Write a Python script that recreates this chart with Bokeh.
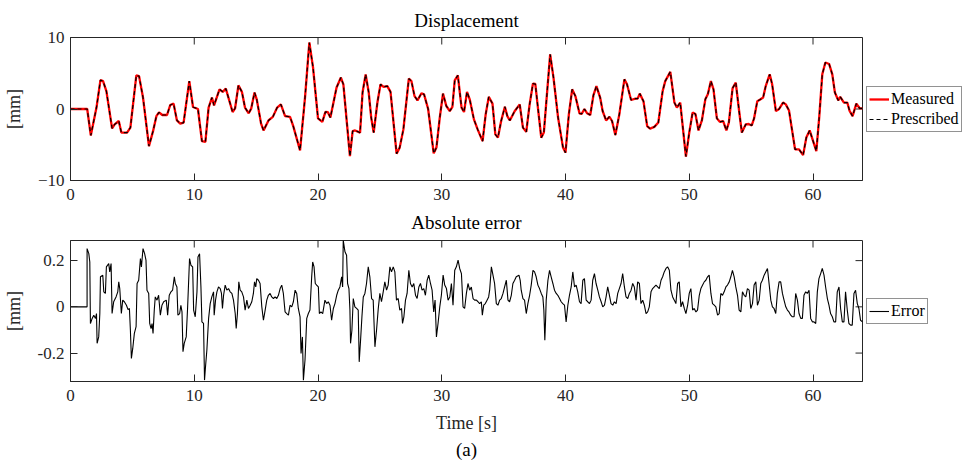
import math
from bokeh.plotting import figure
from bokeh.models import Range1d, FixedTicker, Legend, LegendItem, Title
from bokeh.layouts import column
from bokeh.embed import file_html
from bokeh.resources import INLINE

# ---------------- data ----------------
disp_t = [0, 1.35, 1.64, 2.1, 2.42, 2.63, 2.9, 3.36, 3.57, 3.9, 4.11, 4.57, 4.84, 5.32, 5.54, 5.86, 6.34, 6.67,
          6.94, 7.15, 7.42, 7.8, 8.06, 8.33, 8.6, 8.87, 9.14, 9.6, 9.9, 10.3, 10.62, 10.9, 11.16, 11.43, 11.6,
          12.04, 12.3, 12.55, 13.1, 13.3, 13.57, 13.85, 14.1, 14.4, 14.6, 14.87, 15.05, 15.4, 15.6, 16.0, 16.35,
          16.7, 17.0, 17.34, 17.74, 18.0, 18.55, 18.95, 19.3, 19.6, 20.0, 20.35, 20.6, 20.8, 21.0, 21.5, 21.85,
          22.05, 22.58, 22.8, 23.0, 23.4, 23.6, 23.85, 24.1, 24.3, 24.5, 24.8, 25.05, 25.3, 25.6, 25.86, 26.35,
          26.6, 26.9, 27.34, 27.55, 27.8, 28.04, 28.36, 28.57, 28.9, 29.35, 29.57, 29.84, 30.1, 30.37, 30.65,
          30.86, 31.05, 31.3, 31.6, 31.8, 32.04, 32.26, 32.6, 32.9, 33.3, 33.55, 33.8, 34.1, 34.33, 34.54, 34.8,
          35.1, 35.3, 35.5, 35.9, 36.3, 36.56, 36.83, 37.1, 37.37, 37.56, 37.77, 38.04, 38.25, 38.76, 39.03,
          39.4, 39.8, 40.0, 40.27, 40.54, 40.8, 41.13, 41.3, 41.53, 41.75, 42.0, 42.26, 42.5, 42.8, 43.0, 43.28,
          43.55, 43.76, 44.03, 44.35, 44.76, 44.97, 45.3, 45.65, 45.83, 46.0, 46.3, 46.6, 46.83, 47.18, 47.5,
          47.85, 48.06, 48.47, 48.8, 49.0, 49.27, 49.73, 50.0, 50.27, 50.5, 50.75, 51.02, 51.3, 51.5, 51.75,
          51.96, 52.23, 52.47, 52.74, 53.0, 53.2, 53.5, 53.76, 54.03, 54.25, 54.57, 54.8, 55.05, 55.24, 55.5,
          55.7, 55.97, 56.18, 56.5, 56.7, 57.0, 57.26, 57.58, 57.8, 58.06, 58.55, 58.87, 59.2, 59.46, 59.73,
          60.27, 60.5, 60.75, 61.0, 61.3, 61.56, 61.77, 62.04, 62.2, 62.5, 62.77, 62.96, 63.2, 63.5, 63.77, 64.0]
disp_prescribed = [0, 0, -3.7, 0.2, 4.05, 3.9, 2.5, -2.7, -2.15, -1.68, -3.3, -3.3, -2.6, 4.7, 4.6, 1.6, -5.2, -3.1,
                   -1.0, -0.47, -0.84, -0.84, 0.56, 0.75, -1.6, -2.05, -1.9, 3.9, 0.28, 0.0, -4.5, -4.6, 0.2, 1.6, 0.5,
                   2.75, 2.4, 2.85, -0.42, 0.1, 3.3, 2.4, 0.2, -0.6, 0.05, 2.3, 1.35, -2.05, -3.0, -1.6, -1.1,
                   0.2, 0.65, -1.0, -1.1, -2.4, -5.8, 1.6, 9.3, 5.8, -1.3, -1.8, -0.4, -0.45, -1.2, 3.0, 4.4,
                   3.45, -6.6, -3.1, -3.0, -3.3, 2.3, 4.85, 2.3, -1.2, -3.3, 0.9, 3.45, 3.1, 3.2, 2.4, -6.25,
                   -5.4, -2.85, 4.25, 3.9, 1.8, 1.2, 2.2, 2.05, 0.0, -6.2, -5.4, -1.2, 2.15, 0.42, -0.28,
                   0.28, 4.0, 4.7, 0.2, -0.42, 2.4, 1.35, -1.45, -2.85, -4.5, -0.75, 1.7, 0.75, -3.55, -4.0, -1.68,
                   0.32, -1.0, -1.6, -0.28, 0.65, -2.6, -3.2, 0.65, 3.55, 3.5, 0.2, -4.0, -3.3, 7.65, 4.4,
                   -1.2, -5.4, -6.1, -0.75, 2.75, 1.8, -0.6, -0.7, 0.0, -0.6, -0.84, 1.95, 3.2, 1.6, -0.28, -1.6,
                   -1.08, -1.68, -3.64, -0.75, 4.15, 3.45, 1.26, 1.45, 1.45, 2.15, 1.1, -2.4, -2.75, -2.5, -1.9,
                   2.5, 3.9, 5.2, 0.9, 0.2, 0.9, -6.65, -3.3, -0.5, -0.7, -3.0, -1.6, 1.35, 2.05, 3.9,
                   2.75, -1.3, -1.8, -1.7, -3.0, -1.9, 2.9, 3.7, -0.28, -3.3, -2.15, -2.1, -2.3, -1.3, 1.1,
                   1.3, 1.6, 3.2, 4.85, 3.45, -0.28, 0.0, 0.9, 0.65, -0.2, -5.65, -5.65, -6.45, -4.0, -3.0,
                   -5.9, -1.2, 4.85, 6.5, 6.3, 4.85, 2.3, 1.2, 1.7, 0.9, 0.9, -0.28, -1.0, 0.75, 0.1, 0.1]
# the measured curve coincides with the prescribed one at this scale
disp_measured = disp_prescribed

err_t = [0, 1.34, 1.34, 1.48, 1.56, 1.61, 1.75, 1.88, 2.02, 2.10, 2.15, 2.28, 2.37, 2.42, 2.61, 2.69, 2.82, 2.90,
         3.09, 3.17, 3.28, 3.36, 3.49, 3.68, 3.82, 3.90, 3.98, 4.11, 4.22, 4.35, 4.52, 4.65, 4.76, 4.84, 4.92,
         5.03, 5.16, 5.30, 5.38, 5.51, 5.65, 5.73, 5.86, 5.99, 6.10, 6.18, 6.32, 6.40, 6.51, 6.59, 6.67, 6.77,
         6.85, 6.99, 7.12, 7.26, 7.39, 7.53, 7.74, 7.85, 7.98, 8.12, 8.25, 8.39, 8.47, 8.60, 8.68, 8.82, 8.92,
         9.01, 9.09, 9.19, 9.35, 9.46, 9.62, 9.73, 9.87, 9.95, 10.08, 10.22, 10.30, 10.43, 10.54, 10.62, 10.75,
         10.83, 10.91, 11.02, 11.16, 11.29, 11.42, 11.56, 11.61, 11.72, 11.83, 11.96, 12.10, 12.20, 12.28,
         12.37, 12.50, 12.63, 12.77, 12.90, 13.04, 13.17, 13.31, 13.39, 13.49, 13.60, 13.71, 13.84, 13.98,
         14.11, 14.25, 14.38, 14.52, 14.65, 14.78, 14.87, 14.97, 15.05, 15.19,
         15.32, 15.46, 15.59, 15.73, 15.86, 15.99, 16.13, 16.26, 16.40, 16.53, 16.67, 16.80, 16.94, 17.07,
         17.20, 17.34, 17.47, 17.61, 17.74, 17.88, 18.01, 18.15, 18.28, 18.41, 18.55, 18.63, 18.74, 18.82,
         18.95, 19.09, 19.22, 19.35, 19.49, 19.57, 19.68, 19.78, 19.89, 20.03, 20.11, 20.24, 20.38, 20.56,
         20.70, 20.83, 20.97, 21.10, 21.24, 21.37, 21.51, 21.64, 21.77, 21.91, 21.99, 22.04, 22.18, 22.31,
         22.39, 22.50, 22.58, 22.63, 22.74, 22.85, 22.98, 23.12, 23.25, 23.33, 23.44, 23.55, 23.66, 23.79,
         23.92, 24.06, 24.19, 24.33, 24.46, 24.60, 24.73, 24.87, 25.00, 25.13, 25.27, 25.40, 25.54, 25.67,
         25.81, 25.94, 26.08, 26.21, 26.34, 26.48, 26.61, 26.75, 26.83, 26.94, 27.07, 27.20, 27.34, 27.47,
         27.61, 27.74, 27.88, 28.01, 28.15, 28.28, 28.41, 28.55, 28.68, 28.82, 28.95, 29.09, 29.22, 29.35,
         29.46, 29.57, 29.70, 29.84, 29.97, 30.11, 30.24, 30.38, 30.51,
         30.65, 30.78, 30.91, 31.05, 31.18, 31.32, 31.45, 31.59, 31.72, 31.85, 31.99, 32.12, 32.26, 32.39,
         32.53, 32.66, 32.80, 32.93, 33.06, 33.20, 33.28, 33.39, 33.52, 33.66, 33.79, 33.87, 34.01, 34.14,
         34.27, 34.41, 34.54, 34.68, 34.81, 34.95, 35.08, 35.22, 35.35, 35.48, 35.62, 35.75, 35.89, 36.02,
         36.24, 36.34, 36.42, 36.56, 36.69, 36.83, 36.96, 37.10, 37.23, 37.37, 37.50, 37.63, 37.77, 37.90,
         38.04, 38.17, 38.25, 38.33, 38.39, 38.44, 38.58, 38.71, 38.84, 38.98, 39.11, 39.25, 39.38, 39.52,
         39.65, 39.78, 39.92, 40.05, 40.19, 40.32, 40.46, 40.59, 40.73, 40.86, 40.99, 41.13, 41.26, 41.40,
         41.53, 41.67, 41.80, 41.94, 42.07, 42.20, 42.34, 42.47, 42.61, 42.74, 42.88, 43.01, 43.15, 43.28,
         43.41, 43.55, 43.68, 43.82, 43.95, 44.09, 44.22, 44.35, 44.49, 44.62, 44.76, 44.89, 45.03, 45.16,
         45.30, 45.43, 45.56, 45.70, 45.83, 45.97, 46.10, 46.24, 46.37, 46.51, 46.64, 46.77, 46.91, 47.04,
         47.31, 47.58, 47.72, 47.85, 47.98, 48.12, 48.25, 48.39, 48.52, 48.66, 48.79, 48.92, 49.06, 49.19,
         49.33, 49.46, 49.60, 49.73, 49.87, 50.00, 50.13, 50.27, 50.40, 50.54, 50.67, 50.81, 50.94, 51.08,
         51.21, 51.34, 51.48, 51.61, 51.75, 51.88, 52.02, 52.15, 52.29, 52.42, 52.55, 52.69, 52.82, 52.96,
         53.09, 53.23, 53.36, 53.49, 53.63, 53.76, 53.90, 54.03, 54.17, 54.30, 54.44, 54.57, 54.70, 54.84,
         54.97, 55.11, 55.24, 55.38, 55.51, 55.65, 55.78, 55.91, 56.05, 56.18, 56.32, 56.45, 56.59, 56.72,
         56.85, 56.99, 57.12, 57.26, 57.39, 57.53, 57.66, 57.80, 57.93, 58.06, 58.20, 58.33, 58.47, 58.60,
         58.74, 58.87, 59.01, 59.14, 59.27, 59.41, 59.54, 59.68, 59.81, 59.95, 60.08, 60.22, 60.35, 60.48,
         60.62, 60.75, 60.89, 61.02, 61.16, 61.29, 61.42, 61.56, 61.69, 61.83, 61.96, 62.10, 62.23, 62.37,
         62.50, 62.63, 62.77, 62.90, 63.04, 63.17, 63.31, 63.44, 63.58, 63.71, 63.84, 64.0]
err_v = [0, 0, 0.252, 0.230, 0.194, -0.072, -0.050, -0.036, -0.050, -0.029, -0.158, -0.130, -0.029, 0.130, 0.137,
         0.065, 0.058, 0.173, 0.187, 0.151, 0.187, -0.029, 0.022, 0.043, 0.065, 0.108, 0.079, -0.029, 0.029,
         0.022, 0.007, -0.012, -0.007, -0.101, -0.223, -0.180, -0.115, -0.086, 0.101, 0.115, 0.209, 0.173,
         0.252, 0.230, 0.202, 0.072, 0.058, -0.072, -0.094, -0.072, -0.115, -0.014, 0.043, 0.029, 0.050,
         -0.036, 0.007, 0.022, 0.029, -0.036, 0.050, 0.065, 0.072, 0.130, 0.101, 0.086, -0.036, -0.029, 0.007,
         -0.022, -0.194, -0.158, -0.130, -0.007, 0.209, 0.180, 0.173, -0.014, -0.043, 0.065, 0.216, 0.230,
         0.086, -0.065, -0.072, -0.317, -0.259, -0.187, -0.050, 0.014, 0.043, 0.065, -0.036, 0.029, 0.065,
         0.086, 0.079, 0.058, -0.007, 0.050, 0.094, 0.072, 0.079, 0.065, 0.058, 0.029, -0.029, -0.094,
         -0.029, 0.108, 0.072, 0.065, 0.043, -0.014, 0.029, -0.007, 0.007, 0.022, 0.058, 0.108, 0.086, 0.122,
         0.115,
         0.101, 0, -0.058, -0.014, 0.029, 0.050, 0.058, 0.043, 0.036, 0.043, 0.036, 0.050, 0.079, 0.094,
         0.058, -0.022, -0.029, -0.036, 0.007, 0, 0.022, 0.072, 0.058, -0.007, -0.043, -0.202, -0.130, -0.317,
         -0.230, -0.050, -0.029, -0.014, 0.130, 0.194, 0.173, 0.101, 0.094, 0.086, -0.029, -0.022, -0.029,
         0.029, 0.014, 0.022, 0.007, -0.058, -0.007, 0.014, 0.050, 0.072, 0.086, 0.130, 0.086, 0.288, 0.238,
         0.223, 0.101, 0.079, -0.014, -0.158, -0.101, 0.036, 0, -0.007, -0.014, -0.238, -0.144, -0.043, 0.043,
         0.058, 0.101, 0.173, 0.130, 0.036, 0.029, -0.173, -0.101, -0.007, 0.058, 0.022, 0.065, 0.108, 0.072,
         0.094, 0.173, 0.151, 0.173, 0.151, 0.029, 0.036, -0.014, -0.007, -0.072, -0.043, 0.029, 0.058, 0.158,
         0.101, 0.086, 0.101, 0.050, 0.036, 0.086, 0.101, 0.072, 0.079, 0.050, 0.115, 0.137, 0.101, 0.072,
         -0.022, 0.029, -0.130, -0.072, 0, 0.050, 0.137, 0.094, 0.079, 0.029,
         0.043, 0.101, 0.007, 0.158, 0.173, 0.202, 0.166, 0.144, 0, -0.007, 0.058, 0.101, 0.072, 0.086,
         0.036, 0.029, 0.029, 0.022, 0.014, 0.022, -0.036, 0.007, 0.014, 0.029, 0.043, 0.072, 0.173, 0.137,
         0.101, 0.014, 0.007, 0.029, 0.036, 0.058, 0.086, 0.115, 0.029, 0.022, 0.050, 0.101, 0.115, 0.130,
         0.137, 0.115, 0.072, 0.036, 0.029, -0.029, 0.014, 0.050, 0.094, 0.158, 0.151, 0.130, 0.094, 0.079,
         0.058, 0.043, -0.014, -0.144, -0.058, 0.029, 0.115, 0.158, 0.130, 0.101, 0.072, 0.058, 0.050, 0.036,
         0.022, 0.014, 0.007, -0.065, 0.007, 0.050, 0.086, 0.151, 0.086, 0.094, 0.065, 0.022, 0.014, 0.115,
         0.122, 0.029, 0.022, 0.014, 0.029, 0.115, 0.144, 0.101, 0.072, 0.043, 0.022, 0, 0.007, 0.043,
         0.086, 0.050, 0.014, 0.007, 0.022, 0.014, 0.058, 0.079, 0.101, 0.144, 0.086, 0.043, 0.036, 0.058,
         0.072, 0.101, 0.086, 0.029, 0.108, 0.101, 0.014, 0.029, 0.007, -0.029, -0.022, 0, 0.065, 0.079,
         0.094, 0.079, 0.115, 0.130, 0.151, 0.166, 0.173, 0.158, 0.072, 0.043, 0.029, 0.014, 0.101, 0.108,
         0, 0.022, -0.007, -0.029, 0.007, 0.058, 0.079, -0.014, -0.007, -0.022, -0.014, 0.050, 0.079, 0.094,
         0.108, 0.115, 0.130, 0.137, 0.058, 0.014, 0.007, 0, -0.036, -0.029, 0.058, 0.050, 0.065, 0.086,
         0.094, 0.108, 0.130, 0.158, 0.130, 0.086, 0.050, -0.014, -0.022, 0.065, 0.050, 0.043, 0.079, 0.072,
         -0.007, 0.014, 0.094, 0.108, 0.007, 0.029, 0.101, 0.115, 0.137, 0.151, 0.166, 0.101, 0.029, 0,
         -0.007, -0.029, 0.058, 0.108, 0.108, 0.058, 0.029, 0, -0.014, -0.022, -0.036, -0.043, -0.043, 0.058,
         0.029, -0.029, -0.050, -0.050, 0.050, 0.065, 0.058, 0.072, -0.050, -0.065, -0.065, -0.072, 0.065, 0.122,
         0.144, 0.166, 0.137, 0.086, 0.036, 0.007, -0.029, -0.043, -0.065, -0.065, 0.065, 0.086, -0.007, -0.065,
         -0.065, 0.065, -0.014, -0.072, -0.079, -0.079, 0.058, 0.072, 0.014, -0.007, -0.058, -0.065]

x_ticks = [0, 10, 20, 30, 40, 50, 60]
x_lim = (0, 64)
disp_ticks = [-10, 0, 10]
disp_lim = (-10, 10)
err_ticks = [-0.2, 0, 0.2]
err_lim = (-0.323, 0.287)
err_tick_labels = {-0.2: "-0.2", 0: "0", 0.2: "0.2"}

FONT = "Liberation Serif"
AX = "#262626"
TICK = 7


def style_axes(p, xt, yt, ylabel, xlim, ylim, ylab_over=None):
    p.grid.visible = False
    p.outline_line_color = AX
    p.outline_line_width = 1
    p.background_fill_color = "white"
    p.border_fill_color = "white"
    xa = p.below[0]
    ya = p.left[0]
    for ax in (xa, ya):
        ax.axis_line_color = AX
        ax.axis_line_width = 1
        ax.major_tick_line_color = AX
        ax.major_tick_in = TICK
        ax.major_tick_out = 0
        ax.minor_tick_line_color = None
        ax.major_label_text_font = FONT
        ax.major_label_text_font_size = "17px"
        ax.major_label_text_color = AX
        ax.axis_label_text_font = FONT
        ax.axis_label_text_font_size = "18px"
        ax.axis_label_text_font_style = "normal"
        ax.axis_label_text_color = AX
    xa.ticker = FixedTicker(ticks=xt)
    ya.ticker = FixedTicker(ticks=yt)
    xa.major_label_standoff = 8
    ya.major_label_standoff = 6
    ya.axis_label = ylabel
    ya.axis_label_standoff = 11
    if ylab_over:
        ya.major_label_overrides = ylab_over
    # mirrored inward ticks on the top and right edges of the box
    p.ray(x=xt, y=[ylim[1]] * len(xt), length=TICK, length_units="screen",
          angle=-math.pi / 2, line_color=AX, line_width=1)
    p.ray(x=[xlim[1]] * len(yt), y=yt, length=TICK, length_units="screen",
          angle=math.pi, line_color=AX, line_width=1)
    return xa, ya


def style_legend(lg):
    lg.location = "left"
    lg.margin = 4
    lg.padding = 2
    lg.spacing = 0
    lg.border_line_color = AX
    lg.border_line_width = 1
    lg.background_fill_color = "white"
    lg.background_fill_alpha = 1
    lg.label_text_font = FONT
    lg.label_text_font_size = "16px"
    lg.label_text_color = "black"
    lg.glyph_width = 20
    lg.glyph_height = 20
    lg.label_height = 20
    lg.label_standoff = 2


def style_title(t):
    t.text_font = FONT
    t.text_font_size = "19px"
    t.text_font_style = "normal"
    t.align = "center"
    t.text_color = "black"


# ---------------- top: displacement ----------------
p1 = figure(frame_width=792, frame_height=143, x_range=Range1d(*x_lim), y_range=Range1d(*disp_lim),
            output_backend="svg", toolbar_location=None, title="Displacement")
style_title(p1.title)
p1.title.standoff = 14
style_axes(p1, x_ticks, disp_ticks, "[mm]", x_lim, disp_lim)
r_meas = p1.line(disp_t, disp_measured, line_color="red", line_width=2.3)
r_pres = p1.line(disp_t, disp_prescribed, line_color="black", line_width=1.2, line_dash="4 3")
lg1 = Legend(items=[LegendItem(label="Measured", renderers=[r_meas]),
                    LegendItem(label="Prescribed", renderers=[r_pres])])
style_legend(lg1)
p1.add_layout(lg1, "right")

# ---------------- bottom: absolute error ----------------
p2 = figure(frame_width=792, frame_height=141, x_range=Range1d(*x_lim), y_range=Range1d(*err_lim),
            output_backend="svg", toolbar_location=None, title="Absolute error")
style_title(p2.title)
p2.title.standoff = 15
xa2, ya2 = style_axes(p2, x_ticks, err_ticks, "[mm]", x_lim, err_lim, err_tick_labels)
xa2.axis_label = "Time [s]"
xa2.axis_label_standoff = 9
r_err = p2.line(err_t, err_v, line_color="black", line_width=1.1)
lg2 = Legend(items=[LegendItem(label="Error", renderers=[r_err])])
style_legend(lg2)
p2.add_layout(lg2, "right")
cap = Title(text="(a)")
style_title(cap)
cap.standoff = 2
p2.add_layout(cap, "below")

layout = column(p1, p2, spacing=0)
open("out.html", "w").write(file_html(layout, INLINE))
